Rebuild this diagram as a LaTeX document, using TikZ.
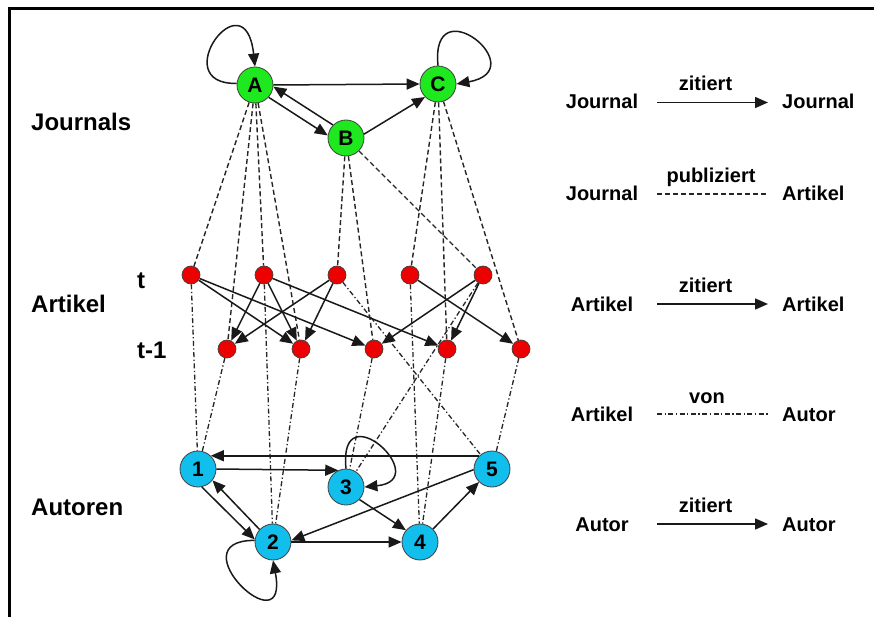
\documentclass[tikz,border=0pt]{standalone}
\usepackage{fontspec}
\setmainfont{Liberation Sans}
\usetikzlibrary{arrows.meta,backgrounds}
\definecolor{jgreen}{RGB}{30,232,30}
\definecolor{ared}{RGB}{236,0,0}
\definecolor{ublue}{RGB}{18,190,235}
\begin{document}
\begin{tikzpicture}[x=1pt,y=-1pt,
  jnode/.style={circle,draw=black!75,line width=0.8pt,fill=jgreen,minimum size=36pt,inner sep=0pt,font=\fontsize{21}{21}\selectfont\bfseries},
  anode/.style={circle,draw=black!75,line width=0.7pt,fill=ared,minimum size=18pt,inner sep=0pt},
  unode/.style={circle,draw=black!75,line width=0.8pt,fill=ublue,minimum size=36pt,inner sep=0pt,font=\fontsize{21}{21}\selectfont\bfseries},
  cite/.style={-{Triangle[length=13pt,width=11pt]},line width=1.5pt,draw=black!90},
  pub/.style={dash pattern=on 5pt off 3pt,line width=1.4pt,draw=black!85},
  von/.style={dash pattern=on 5pt off 2.5pt on 1.3pt off 2.5pt,line width=1.3pt,draw=black!85},
  lbl/.style={font=\fontsize{24}{24}\selectfont\bfseries,anchor=base west,inner sep=0pt},
  leg/.style={font=\fontsize{20}{20}\selectfont\bfseries,anchor=base,inner sep=0pt},
  legr/.style={font=\fontsize{20}{20}\selectfont\bfseries,anchor=base west,inner sep=0pt},
]
\useasboundingbox (0,0) rectangle (874,617);
\draw[line width=3pt] (874,9) -- (9,9) -- (9,617);

% left labels
\node[lbl] (lj) at (31,131) {Journals};
\node[lbl] (la) at (31,312) {Artikel};
\node[lbl] (lu) at (31,515) {Autoren};
\node[lbl] (lt) at (137,288) {t};
\node[lbl] (lt1) at (137,358) {t-1};

% journals
\node[jnode] (A) at (255,85) {A};
\node[jnode] (B) at (346,138) {B};
\node[jnode] (C) at (438,84) {C};

% articles
\node[anode] (t1) at (191,275) {};
\node[anode] (t2) at (264,275) {};
\node[anode] (t3) at (337,275) {};
\node[anode] (t4) at (410,275) {};
\node[anode] (t5) at (483,275) {};
\node[anode] (s1) at (227,349) {};
\node[anode] (s2) at (301,349) {};
\node[anode] (s3) at (374,349) {};
\node[anode] (s4) at (447,349) {};
\node[anode] (s5) at (521,349) {};

% authors
\node[unode] (u1) at (198,469) {1};
\node[unode] (u2) at (273,542) {2};
\node[unode] (u3) at (346,487) {3};
\node[unode] (u4) at (420,542) {4};
\node[unode] (u5) at (492,469) {5};

\begin{scope}[on background layer]
\fill[white] (0,0) rectangle (874,617);
% journal publishes article
\draw[pub] (A) -- (t1);
\draw[pub] (A) -- (s1);
\draw[pub] (A) -- (t2);
\draw[pub] (A) -- (s2);
\draw[pub] (B) -- (t3);
\draw[pub] (B) -- (s3);
\draw[pub] (B) -- (t5);
\draw[pub] (C) -- (t4);
\draw[pub] (C) -- (s4);
\draw[pub] (C) -- (s5);
% article by author
\draw[von] (t1) -- (u1);
\draw[von] (s1) -- (u1);
\draw[von] (t2) -- (u2);
\draw[von] (s2) -- (u2);
\draw[von] (t3) -- (u5);
\draw[von] (s3) -- (u3);
\draw[von] (t5) -- (u3);
\draw[von] (t4) -- (u4);
\draw[von] (s4) -- (u4);
\draw[von] (s5) -- (u5);
\end{scope}

% journal citations
\draw[cite] (A.175) .. controls (165,85) and (245,-25) .. (A.north);
\draw[cite] (C.north) .. controls (430,-15) and (535,70) .. (C.east);
\draw[cite] (A.east) -- (C.west);
\draw[cite] (A.-42) -- (B.172);
\draw[cite] (B.135) -- (A.-5);
\draw[cite] (B.12) -- (C.-135);

% article citations
\draw[cite] (t1) -- (s2);
\draw[cite] (t1) -- (s3);
\draw[cite] (t2) -- (s1);
\draw[cite] (t2) -- (s2);
\draw[cite] (t2) -- (s4);
\draw[cite] (t3) -- (s1);
\draw[cite] (t3) -- (s2);
\draw[cite] (t4) -- (s5);
\draw[cite] (t5) -- (s3);
\draw[cite] (t5) -- (s4);

% author citations
\draw[cite] (u5.134) -- (u1.46);
\draw[cite] (u1.east) -- (u3.115);
\draw[cite] (u3.north) .. controls (338,390) and (435,480) .. (u3.east);
\draw[cite] (u1.-78) -- (u2.172);
\draw[cite] (u2.137) -- (u1.-38);
\draw[cite] (u2.175) .. controls (175,540) and (290,650) .. (u2.south);
\draw[cite] (u3.-43) -- (u4.140);
\draw[cite] (u5.182) -- (u2.5);
\draw[cite] (u2.east) -- (u4.west);
\draw[cite] (u4.45) -- (u5.-135);

% legend
\node[leg] (l1a) at (602,109) {Journal};
\node[legr] (l1b) at (782,109) {Journal};
\coordinate (l1s) at (657,102.5);
\coordinate (l1e) at (768,102.5);
\draw[cite] (l1s) -- (l1e);
\node[leg] (l1t) at (705.5,91) {zitiert};

\node[leg] (l2a) at (602,201) {Journal};
\node[legr] (l2b) at (782,201) {Artikel};
\coordinate (l2s) at (657,194);
\coordinate (l2e) at (768,194);
\draw[pub] (l2s) -- (l2e);
\node[leg] (l2t) at (711,183) {publiziert};

\node[leg] (l3a) at (602,311) {Artikel};
\node[legr] (l3b) at (782,311) {Artikel};
\coordinate (l3s) at (657,304);
\coordinate (l3e) at (768,304);
\draw[cite] (l3s) -- (l3e);
\node[leg] (l3t) at (705.5,292) {zitiert};

\node[leg] (l4a) at (602,421) {Artikel};
\node[legr] (l4b) at (782,421) {Autor};
\coordinate (l4s) at (657,414);
\coordinate (l4e) at (768,414);
\draw[von] (l4s) -- (l4e);
\node[leg] (l4t) at (707,403) {von};

\node[leg] (l5a) at (602,531) {Autor};
\node[legr] (l5b) at (782,531) {Autor};
\coordinate (l5s) at (657,524);
\coordinate (l5e) at (768,524);
\draw[cite] (l5s) -- (l5e);
\node[leg] (l5t) at (705.5,512) {zitiert};
\end{tikzpicture}
\end{document}
